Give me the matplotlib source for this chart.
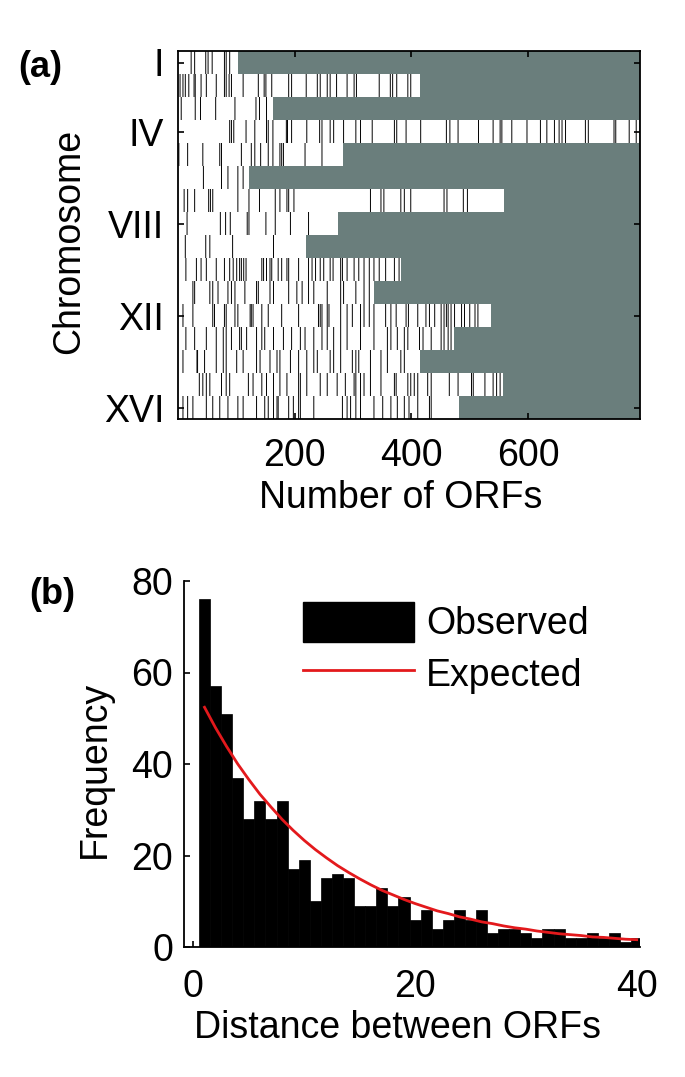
import numpy as np
import matplotlib
matplotlib.use("Agg")
import matplotlib.pyplot as plt
from matplotlib.patches import Patch
from matplotlib.lines import Line2D

plt.rcParams['font.family'] = ['Liberation Sans', 'DejaVu Sans']

# ---- panel (a): ORFs per chromosome and positions of the marked ORFs ----
chrom_labels = ['I', 'II', 'III', 'IV', 'V', 'VI', 'VII', 'VIII',
                'IX', 'X', 'XI', 'XII', 'XIII', 'XIV', 'XV', 'XVI']
chrom_len = [102, 415, 163, 790, 283, 122, 559, 274,
             220, 381, 335, 536, 473, 414, 557, 481]
marked = [
    [23, 29, 48, 52, 59, 80, 83, 89],
    [4, 9, 13, 19, 28, 30, 40, 49, 66, 80, 83, 88, 92, 112, 138, 148, 151, 161,
     190, 195, 220, 239, 244, 256, 261, 272, 290, 302, 306, 345, 364, 368, 375,
     394, 399],
    [6, 30, 39, 65, 98, 134, 140, 152],
    [89, 92, 96, 117, 132, 152, 155, 163, 186, 188, 195, 221, 243, 247, 261, 267,
     284, 305, 313, 333, 371, 375, 391, 416, 460, 466, 480, 515, 540, 552, 555,
     572, 598, 621, 632, 645, 653, 658, 664, 698, 703, 747, 750, 773, 785],
    [2, 17, 43, 72, 75, 109, 126, 132, 142, 155, 163, 175, 178, 181, 218, 247],
    [44, 75, 86, 103, 112],
    [11, 17, 29, 53, 56, 60, 103, 122, 140, 167, 175, 187, 190, 199, 330, 348,
     353, 382, 388, 399, 456, 461, 489, 496],
    [16, 73, 82, 90, 119, 122, 151, 167, 193, 224],
    [13, 48, 55, 94, 164],
    [14, 32, 40, 49, 66, 80, 89, 95, 101, 106, 109, 113, 117, 144, 147, 152, 158,
     161, 172, 178, 187, 190, 207, 224, 230, 236, 244, 250, 261, 266, 279, 282,
     290, 302, 310, 319, 328, 336, 345, 356, 371, 379],
    [26, 29, 55, 60, 69, 86, 92, 98, 115, 135, 138, 158, 164, 190, 204, 213, 224,
     233, 256, 279, 284, 305, 319, 328],
    [9, 26, 60, 63, 80, 83, 98, 103, 124, 126, 129, 144, 155, 178, 207, 241, 244,
     247, 256, 259, 279, 290, 299, 313, 319, 328, 336, 356, 365, 374, 391, 395,
     411, 425, 431, 440, 451, 456, 460, 463, 468, 474, 486, 491, 500, 509, 514],
    [14, 29, 49, 66, 78, 83, 92, 106, 109, 118, 135, 144, 149, 164, 181, 195, 210,
     218, 233, 247, 256, 267, 279, 290, 313, 336, 359, 365, 376, 388, 394, 414,
     420, 434, 451, 456, 463, 468],
    [9, 33, 34, 46, 66, 78, 83, 101, 112, 135, 141, 158, 170, 175, 193, 207, 221,
     233, 239, 261, 267, 279, 299, 305, 310, 330, 348, 359, 382, 388],
    [37, 43, 49, 55, 75, 83, 89, 121, 129, 144, 152, 164, 175, 187, 207, 210, 221,
     244, 256, 273, 287, 302, 305, 313, 319, 330, 348, 371, 374, 394, 399, 405,
     411, 428, 434, 465, 480, 503, 506, 526, 540, 546, 552],
    [9, 17, 26, 49, 60, 72, 86, 103, 112, 135, 149, 155, 164, 170, 172, 190, 198,
     207, 210, 233, 282, 290, 296, 305, 313, 336, 351, 365, 376, 388, 396, 411,
     431, 434],
]

# ---- panel (b): histogram of distances and expected curve ----
dist_bins = list(range(1, 41))
dist_counts = [76, 57, 51, 37, 28, 32, 28, 32, 17, 19,
               10, 15, 16, 15, 9, 9, 13, 9, 11, 6,
               8, 4, 6, 8, 6, 8, 3, 4, 4, 3,
               2, 4, 4, 2, 2, 3, 2, 3, 1, 2]
exp_x = list(range(1, 41))
exp_y = [52.4, 47.9, 43.8, 40.0, 36.6, 33.4, 30.6, 27.9, 25.5, 23.3,
         21.3, 19.5, 17.8, 16.3, 14.9, 13.6, 12.4, 11.4, 10.4, 9.5,
         8.7, 7.9, 7.3, 6.6, 6.1, 5.5, 5.1, 4.6, 4.2, 3.9,
         3.5, 3.2, 2.9, 2.7, 2.5, 2.2, 2.1, 1.9, 1.7, 1.6]

FS = 27
GREY = '#6a7e7c'
RED = '#e3191c'
fig = plt.figure(figsize=(6.85, 10.77), dpi=100)

# panel (a)
axA = fig.add_axes([178/685, 1-419/1077, 462/685, 368/1077])
n_max = max(chrom_len) + 1
rows = np.arange(1, len(chrom_len) + 1)
lens = np.array(chrom_len)
# white part = ORFs present, grey part = beyond end of chromosome
axA.barh(rows, lens, left=0.5, height=1.0, color='white', linewidth=0)
axA.barh(rows, n_max - lens, left=lens + 0.5, height=1.0, color=GREY,
         linewidth=0)
for r, m in zip(rows, marked):
    axA.vlines(m, r - 0.5, r + 0.5, color='black', linewidth=0.7, snap=False)
axA.set_xlim(0.5, n_max + 0.5)
axA.set_ylim(len(chrom_len) + 0.5, 0.5)
axA.set_xticks([200, 400, 600])
yt = [1, 4, 8, 12, 16]
axA.set_yticks(yt)
axA.set_yticklabels([chrom_labels[k-1] for k in yt])
axA.tick_params(direction='in', top=True, right=True, length=4, width=1.2,
                labelsize=FS)
axA.tick_params(axis='x', pad=14)
axA.tick_params(axis='y', pad=10)
for s in axA.spines.values():
    s.set_linewidth(1.3)
    s.set_zorder(5)
axA.set_xlabel('Number of ORFs', fontsize=FS, va='baseline')
axA.xaxis.set_label_coords(0.483, (419-508)/368)
axA.set_ylabel('Chromosome', fontsize=FS, va='center')
axA.yaxis.set_label_coords((69-178)/462, (419-241)/368)

# panel (b)
axB = fig.add_axes([184/685, 1-947/1077, 456/685, 366/1077])
axB.bar(dist_bins, dist_counts, width=1.0, color='black', edgecolor='black',
        linewidth=0.5)
axB.plot(exp_x, exp_y, color=RED, lw=2.0)
axB.set_xlim(-0.85, 40.3)
axB.set_ylim(0, 80)
axB.set_xticks([0, 20, 40])
axB.set_yticks([0, 20, 40, 60, 80])
axB.spines['top'].set_visible(False)
axB.spines['right'].set_visible(False)
for s in ['left', 'bottom']:
    axB.spines[s].set_linewidth(1.3)
axB.tick_params(direction='in', length=4, width=1.2, labelsize=FS)
axB.tick_params(axis='x', pad=15.5)
axB.tick_params(axis='y', pad=8)
axB.set_xlabel('Distance between ORFs', fontsize=FS, va='baseline')
axB.xaxis.set_label_coords(0.468, (947-1038)/366)
axB.set_ylabel('Frequency', fontsize=FS, va='center')
axB.yaxis.set_label_coords((95-184)/456, (947-769.5)/366)

handles = [Patch(facecolor='black', edgecolor='black'),
           Line2D([], [], color=RED, lw=2.0)]
axB.legend(handles, ['Observed', 'Expected'], loc='upper left',
           bbox_to_anchor=(0.261, 0.943), frameon=False, borderpad=0,
           borderaxespad=0, handlelength=2.95, handleheight=1.25,
           handletextpad=0.33, labelspacing=0.3, fontsize=FS)

fig.text(18/685, 1-67.5/1077, '(a)', fontsize=26, fontweight='bold',
         ha='left', va='center')
fig.text(29/685, 1-594/1077, '(b)', fontsize=26, fontweight='bold',
         ha='left', va='center')

fig.savefig('out.png', dpi=100)
